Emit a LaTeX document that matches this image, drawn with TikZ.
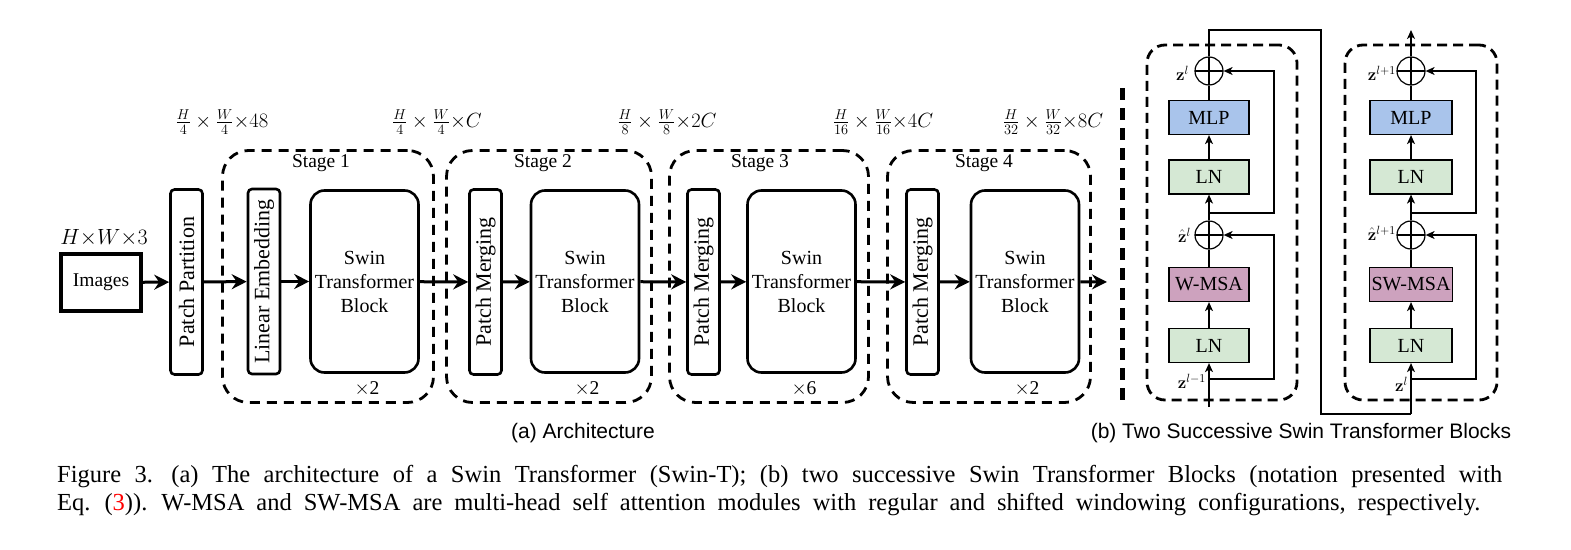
\RequirePackage{fix-cm}
\documentclass[tikz,border=0pt]{standalone}
\usepackage[no-math]{fontspec}
\setmainfont{Liberation Serif}
\newfontfamily\arialfont{Liberation Sans}
\usetikzlibrary{arrows.meta}
\newcommand{\fsz}[2]{\fontsize{#1}{#2}\selectfont}
\begin{document}
\begin{tikzpicture}[x=1pt,y=-1pt,
  thickbox/.style={draw, line width=2.6pt, rounded corners=4pt, inner sep=0pt},
  vbox/.style={thickbox, rotate=90, minimum width=185pt, minimum height=32pt, font=\fsz{22}{26}},
  swin/.style={draw, line width=2.6pt, rounded corners=14pt, minimum width=108pt, minimum height=182pt, align=center, inner sep=0pt, font=\fsz{20}{24}},
  stagebox/.style={draw, line width=2.8pt, dash pattern=on 10pt off 7pt, rounded corners=26pt, minimum height=252pt, inner sep=0pt},
  blockbox/.style={draw, line width=2.8pt, dash pattern=on 10pt off 6pt, rounded corners=18pt, minimum height=355pt, inner sep=0pt},
  bigarrow/.style={line width=3pt, -{Stealth[length=15pt,width=15pt,inset=5pt]}},
  lbl/.style={font=\fsz{19.5}{23}, inner sep=0pt},
  dimlbl/.style={font=\fsz{20.5}{24}, inner sep=0pt},
  cbox/.style={draw, line width=1.2pt, minimum width=80pt, minimum height=34pt, inner sep=0pt, font=\fsz{20}{24}},
  plus/.style={circle, draw, line width=1.2pt, minimum size=28pt, inner sep=0pt,
    path picture={\draw[line width=1.2pt] (path picture bounding box.north) -- (path picture bounding box.south)
      (path picture bounding box.west) -- (path picture bounding box.east);}},
  tline/.style={line width=1.3pt},
  tarrow/.style={line width=1.3pt, -{Stealth[length=9pt,width=8pt,inset=2.5pt]}},
  zlbl/.style={font=\fsz{17}{20}, inner sep=0pt}
]
\useasboundingbox (0,0) rectangle (1571,549);

% ---------- (a) architecture ----------
\node[stagebox, minimum width=211pt] (st1) at (328,276.5) {};
\node[stagebox, minimum width=205pt] (st2) at (549,276.5) {};
\node[stagebox, minimum width=199pt] (st3) at (769,276.5) {};
\node[stagebox, minimum width=203pt] (st4) at (989,276.5) {};

\node[lbl] (st1l) at (321,163) {Stage 1};
\node[lbl] (st2l) at (543,163) {Stage 2};
\node[lbl] (st3l) at (760,163) {Stage 3};
\node[lbl] (st4l) at (984,163) {Stage 4};

\node[draw, line width=4pt, minimum width=80pt, minimum height=57pt, inner sep=0pt, font=\fsz{19.5}{23}] (img) at (101,282.5) {Images};
\node[font=\fsz{22}{26}, inner sep=0pt] (imgl) at (104,238) {$H{\times}W{\times}3$};

\node[vbox] (pp) at (186.5,282) {Patch Partition};
\node[vbox] (le) at (264,281.5) {Linear Embedding};
\node[swin] (sw1) at (364.5,281.5) {Swin\\Transformer\\Block};
\node[vbox] (pm2) at (485.5,282) {Patch Merging};
\node[swin] (sw2) at (585,281.5) {Swin\\Transformer\\Block};
\node[vbox] (pm3) at (703.5,282) {Patch Merging};
\node[swin] (sw3) at (801.5,281.5) {Swin\\Transformer\\Block};
\node[vbox] (pm4) at (922.5,282) {Patch Merging};
\node[swin] (sw4) at (1025,281.5) {Swin\\Transformer\\Block};
\coordinate (out) at (1107,282);

\node[lbl] (r1) at (367,389) {$\times$2};
\node[lbl] (r2) at (587,389) {$\times$2};
\node[lbl] (r3) at (804,389) {$\times$6};
\node[lbl] (r4) at (1027,389) {$\times$2};

\draw[bigarrow] (img) -- (pp);
\draw[bigarrow] (pp) -- (le);
\draw[bigarrow] (le) -- (sw1);
\draw[bigarrow] (sw1) -- (pm2);
\draw[bigarrow] (pm2) -- (sw2);
\draw[bigarrow] (sw2) -- (pm3);
\draw[bigarrow] (pm3) -- (sw3);
\draw[bigarrow] (sw3) -- (pm4);
\draw[bigarrow] (pm4) -- (sw4);
\draw[bigarrow] (sw4) -- (out);

\node[dimlbl] (d1) at (222,122) {$\frac{H}{4}\times\frac{W}{4}{\times}48$};
\node[dimlbl] (d2) at (437,122) {$\frac{H}{4}\times\frac{W}{4}{\times}C$};
\node[dimlbl] (d3) at (667,122) {$\frac{H}{8}\times\frac{W}{8}{\times}2C$};
\node[dimlbl] (d4) at (883,122) {$\frac{H}{16}\times\frac{W}{16}{\times}4C$};
\node[dimlbl] (d5) at (1053,122) {$\frac{H}{32}\times\frac{W}{32}{\times}8C$};

% separator
\coordinate (sepT) at (1122,88);
\coordinate (sepB) at (1122,402);
\draw[line width=5pt, dash pattern=on 12pt off 8pt] (sepT) -- (sepB);

% ---------- (b) two blocks ----------
\node[blockbox, minimum width=150pt] (bA) at (1222,222.5) {};
\node[blockbox, minimum width=152pt] (bB) at (1421,222.5) {};

% block A
\node[plus] (pA1) at (1209,71) {};
\node[plus] (pA2) at (1209,235) {};
\node[cbox, fill={rgb,255:red,169;green,196;blue,235}] (mlpA) at (1209,117.5) {MLP};
\node[cbox, fill={rgb,255:red,213;green,232;blue,212}] (lnA2) at (1209,177) {LN};
\node[cbox, fill={rgb,255:red,205;green,162;blue,190}] (msaA) at (1209,284.5) {W-MSA};
\node[cbox, fill={rgb,255:red,213;green,232;blue,212}] (lnA1) at (1209,345.5) {LN};
\coordinate (inA) at (1209,407);
\coordinate (sA1) at (1209,379);
\coordinate (rA1) at (1274,379);
\coordinate (sA2) at (1209,213);
\coordinate (rA2) at (1274,213);
\coordinate (topA) at (1209,30);
\coordinate (c1) at (1321,30);
\coordinate (c2) at (1321,414);
\coordinate (c3) at (1411,414);

\draw[tarrow] (inA) -- (lnA1);
\draw[tarrow] (lnA1) -- (msaA);
\draw[tline] (msaA) -- (pA2);
\draw[tarrow] (pA2) -- (lnA2);
\draw[tarrow] (lnA2) -- (mlpA);
\draw[tline] (mlpA) -- (pA1);
\draw[tarrow] (sA1) -- (rA1) -- (rA1 |- pA2) -- (pA2.east);
\draw[tarrow] (sA2) -- (rA2) -- (rA2 |- pA1) -- (pA1.east);

\node[zlbl, anchor=east] (zA1) at (1189,73) {$\mathbf{z}^{l}$};
\node[zlbl, anchor=east] (zA2) at (1191,235) {$\hat{\mathbf{z}}^{l}$};
\node[zlbl, anchor=east] (zA0) at (1206,381) {$\mathbf{z}^{l-1}$};

% block B
\node[plus] (pB1) at (1411,71) {};
\node[plus] (pB2) at (1411,235) {};
\node[cbox, minimum width=82pt, fill={rgb,255:red,169;green,196;blue,235}] (mlpB) at (1411,117.5) {MLP};
\node[cbox, minimum width=82pt, fill={rgb,255:red,213;green,232;blue,212}] (lnB2) at (1411,177) {LN};
\node[cbox, minimum width=83pt, fill={rgb,255:red,205;green,162;blue,190}] (msaB) at (1411,284.5) {SW-MSA};
\node[cbox, minimum width=82pt, fill={rgb,255:red,213;green,232;blue,212}] (lnB1) at (1411,345.5) {LN};
\coordinate (sB1) at (1411,379);
\coordinate (rB1) at (1476,379);
\coordinate (sB2) at (1411,213);
\coordinate (rB2) at (1476,213);
\coordinate (topB) at (1411,30);

\draw[tline] (pA1) -- (topA) -- (c1) -- (c2) -- (c3);
\draw[tarrow] (c3) -- (lnB1);
\draw[tarrow] (lnB1) -- (msaB);
\draw[tline] (msaB) -- (pB2);
\draw[tarrow] (pB2) -- (lnB2);
\draw[tarrow] (lnB2) -- (mlpB);
\draw[tline] (mlpB) -- (pB1);
\draw[tarrow] (pB1) -- (topB);
\draw[tarrow] (sB1) -- (rB1) -- (rB1 |- pB2) -- (pB2.east);
\draw[tarrow] (sB2) -- (rB2) -- (rB2 |- pB1) -- (pB1.east);

\node[zlbl, anchor=east] (zB1) at (1396,73) {$\mathbf{z}^{l+1}$};
\node[zlbl, anchor=east] (zB2) at (1396,233) {$\hat{\mathbf{z}}^{l+1}$};
\node[zlbl, anchor=east] (zB0) at (1408,384) {$\mathbf{z}^{l}$};

% sub-captions
\node[font=\arialfont\fsz{21}{25}, inner sep=0pt] (capa) at (583,433) {(a) Architecture};
\node[font=\arialfont\fsz{21}{25}, inner sep=0pt] (capb) at (1301,433) {(b) Two Successive Swin Transformer Blocks};

% caption
\node[anchor=north west, inner sep=0pt, text width=1445pt, align=justify, font=\fsz{24.5}{28}] (cap) at (57,465)
{\spaceskip=12pt plus 4pt minus 3pt Figure 3. (a) The architecture of a Swin Transformer (Swin-T); (b) two successive Swin Transformer Blocks (notation presented with\linebreak Eq. (\textcolor{red}{3})). W-MSA and SW-MSA are multi-head self attention modules with regular and shifted windowing configurations, respectively.};
\end{tikzpicture}
\end{document}
